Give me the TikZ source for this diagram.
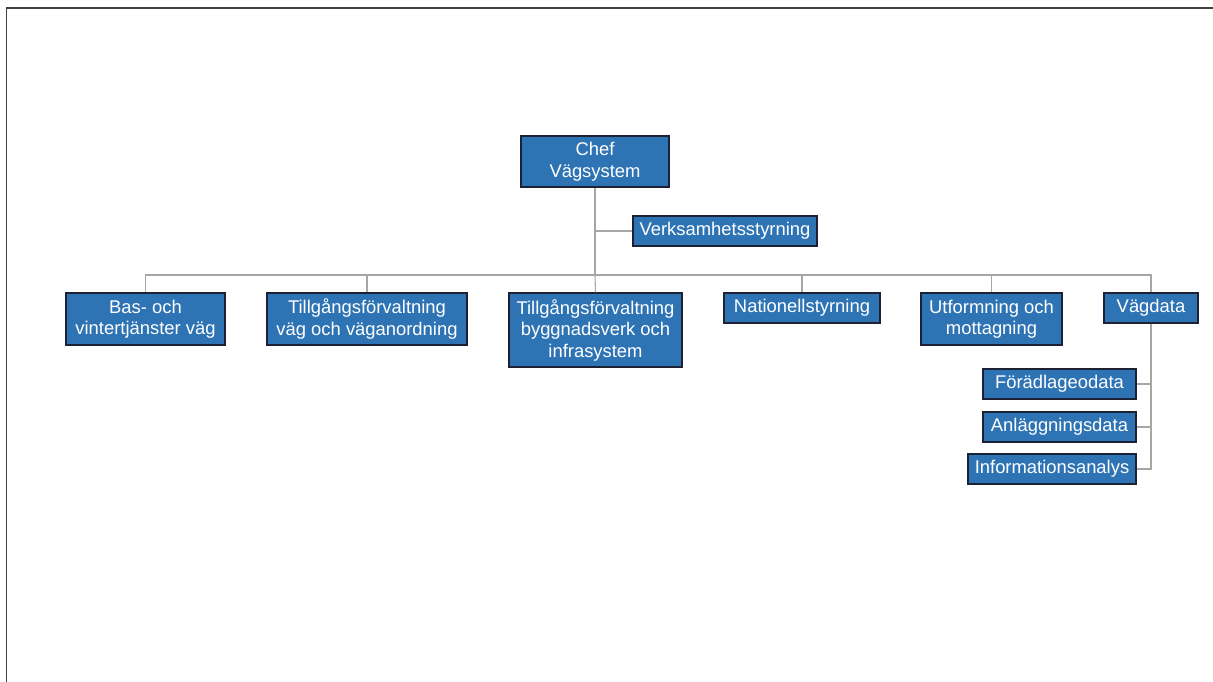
\documentclass[tikz,border=0pt]{standalone}
\usepackage{fontspec}
\setmainfont{Liberation Sans}
\definecolor{boxblue}{HTML}{2E74B5}
\definecolor{boxedge}{HTML}{1C2233}
\definecolor{conngray}{HTML}{A6A6A6}
\definecolor{framegray}{HTML}{404040}
\begin{document}
\begin{tikzpicture}[x=1pt,y=-1pt,
  orgbox/.style={rectangle, fill=boxblue, draw=boxedge, line width=1.1pt,
    text=white, align=center, inner sep=0pt,
    font=\fontsize{18.4}{21.5}\selectfont},
  conn/.style={draw=conngray, line width=1.1pt},
  frameline/.style={draw=framegray, line width=1.5pt}]
\useasboundingbox (0,0) rectangle (1213,682);
\draw[frameline] (6.5,682) -- (6.5,8) -- (1213,8);

\node[orgbox, minimum width=148pt, minimum height=51pt] (chef) at (595,161.5) {Chef\\Vägsystem};
\node[orgbox, minimum width=184pt, minimum height=30pt] (verk) at (725,231) {Verksamhetsstyrning};

\node[orgbox, minimum width=159pt, minimum height=52pt] (bas) at (145.5,319) {Bas- och\\vintertjänster väg};
\node[orgbox, minimum width=200pt, minimum height=52pt] (tvag) at (367,319) {Tillgångsförvaltning\\väg och väganordning};
\node[orgbox, minimum width=173pt, minimum height=74pt] (tbyg) at (595.5,330) {Tillgångsförvaltning\\byggnadsverk och\\infrasystem};
\node[orgbox, minimum width=156pt, minimum height=30pt] (nat) at (802,308) {Nationellstyrning};
\node[orgbox, minimum width=141pt, minimum height=52pt] (utf) at (991.5,319) {Utformning och\\mottagning};
\node[orgbox, minimum width=94pt, minimum height=30pt] (vagd) at (1151,308) {Vägdata};

\node[orgbox, minimum width=153pt, minimum height=30pt] (fora) at (1059.5,384) {Förädlageodata};
\node[orgbox, minimum width=153pt, minimum height=30pt] (anl) at (1059.5,427) {Anläggningsdata};
\node[orgbox, minimum width=168pt, minimum height=30pt] (info) at (1052,469) {Informationsanalys};

\coordinate (hub) at (595,275);
\draw[conn] (chef.south) -- (hub);
\draw[conn] (verk.west) -- (verk.west -| chef.south);
\draw[conn] (hub) -| (bas.north);
\draw[conn] (hub) -| (tvag.north);
\draw[conn] (hub) -- (tbyg.north);
\draw[conn] (hub) -| (nat.north);
\draw[conn] (hub) -| (utf.north);
\draw[conn] (hub) -| (vagd.north);
\draw[conn] (vagd.south) |- (fora.east);
\draw[conn] (vagd.south) |- (anl.east);
\draw[conn] (vagd.south) |- (info.east);
\end{tikzpicture}
\end{document}
